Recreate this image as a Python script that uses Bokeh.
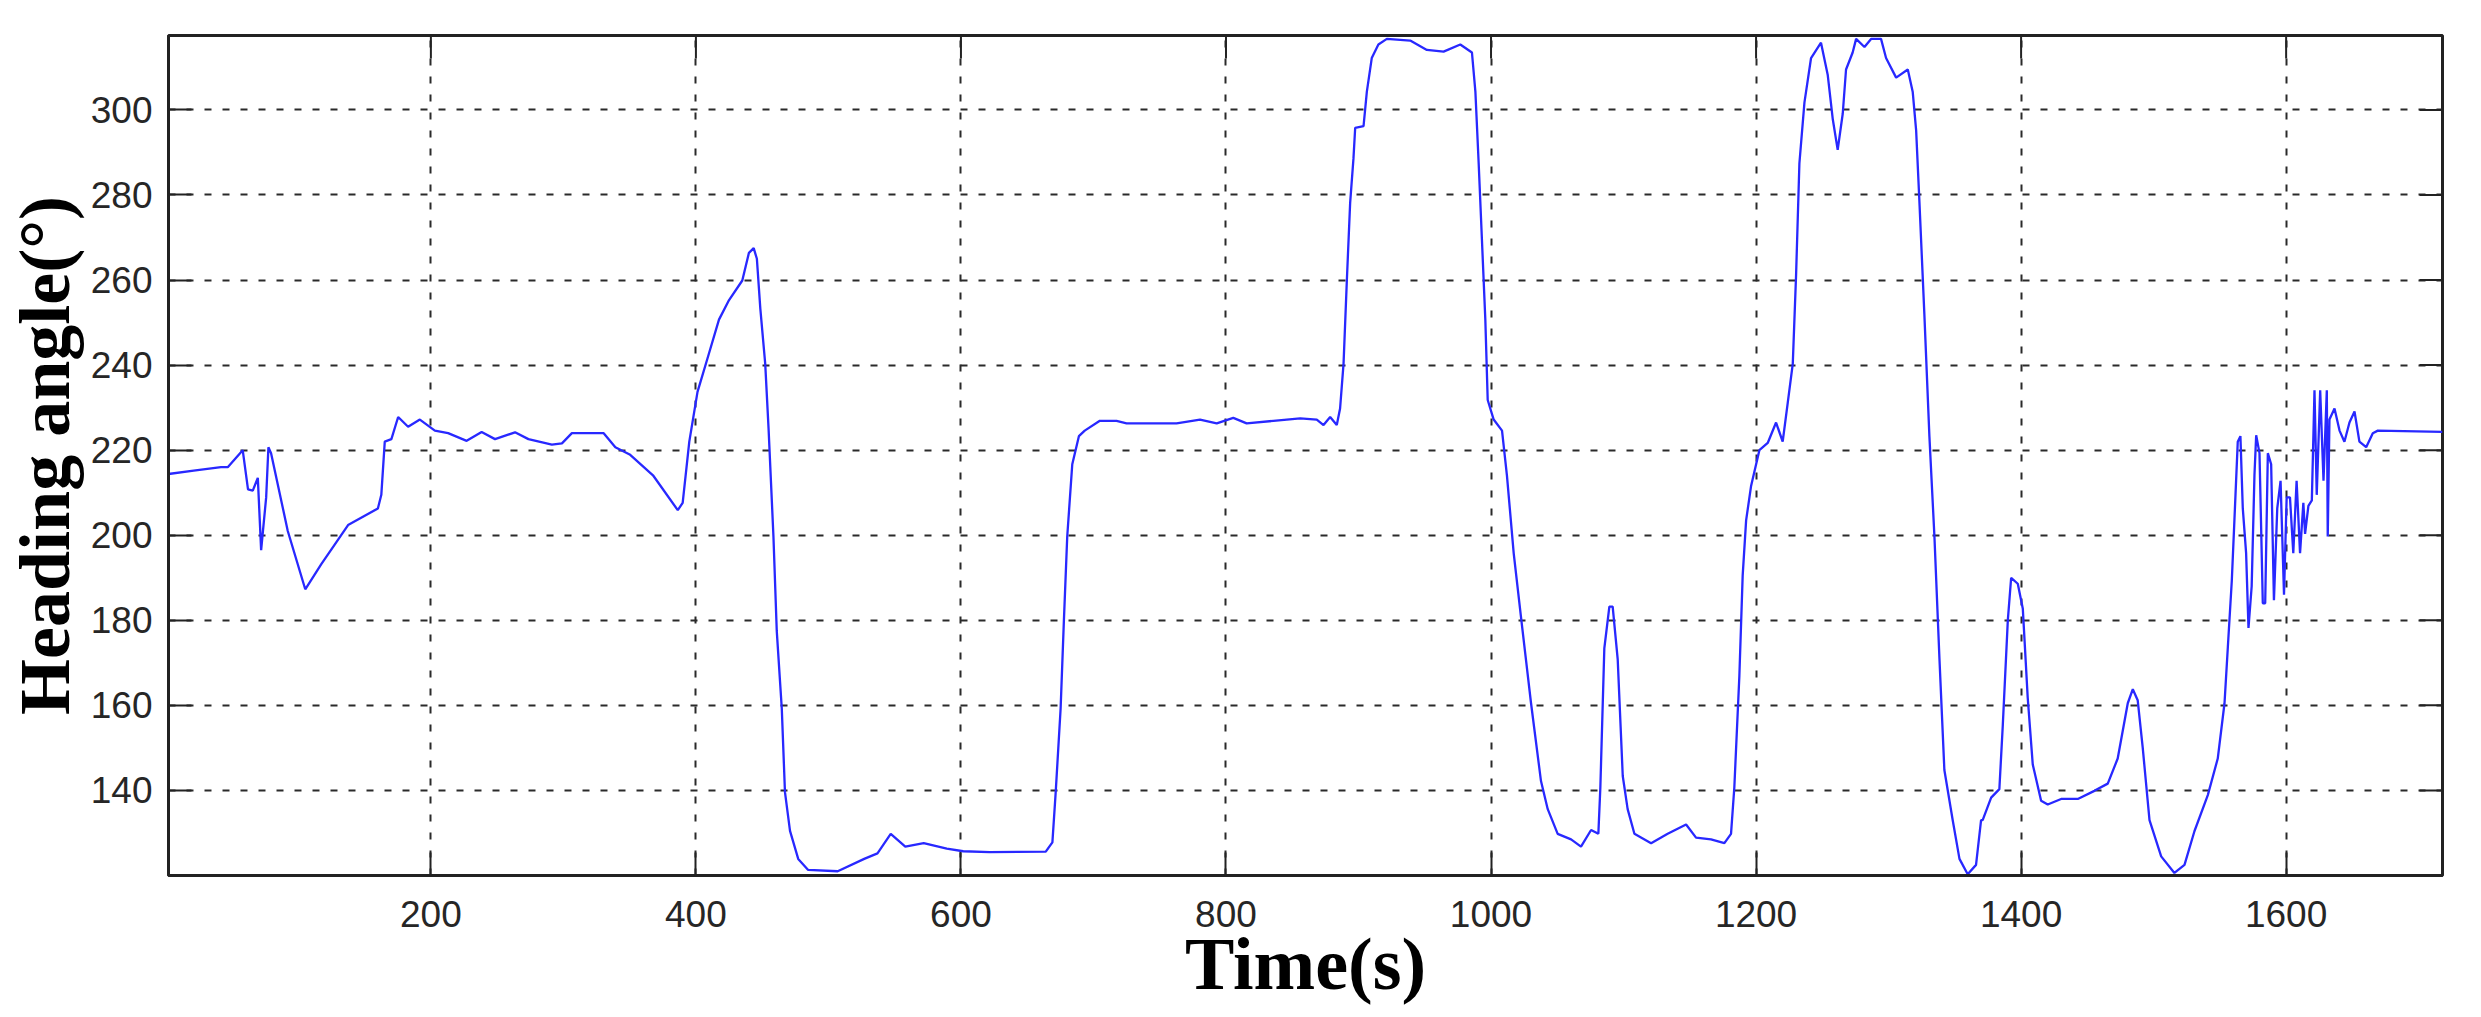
import math
from bokeh.plotting import figure
from bokeh.models import Range1d, FixedTicker
from bokeh.embed import file_html
from bokeh.resources import INLINE

# ---- data ----
time_s = [2, 21, 41.6, 46.7, 58, 62, 65.6, 69.4, 71.9, 75.7, 77.4, 79.4, 92, 105.2, 117.3, 137.5,
          160, 162.6, 165.2, 170.2, 175.3, 182.8, 191.7, 203, 213, 227, 238.3, 248.4, 263.5, 273.6,
          291.3, 298.9, 306.4, 330.4, 339.2, 350, 367.6, 386.3, 390, 395, 401.2, 410, 417.4, 425,
          435, 440, 443.6, 446, 448.6, 452.3, 454.8, 458.5, 461, 464.8, 467.2, 471, 477.2, 484.7,
          507, 527, 537, 547, 558, 571.9, 589.3, 601.7, 621.7, 664, 669, 671.5, 675.2, 677.7,
          680.2, 684, 689, 693.4, 704.8, 717.4, 725, 762.7, 780.4, 793, 805.5, 815.6, 835.8, 856,
          868.5, 873.6, 878.6, 883.6, 886.1, 888.7, 891.2, 893.7, 896.2, 897.5, 903.8, 906.3, 910,
          915, 921.4, 939, 951.6, 964.2, 976.8, 985.6, 988.2, 990.7, 993.2, 995.7, 997.5, 1002,
          1008.3, 1012, 1017.1, 1022.6, 1030.2, 1037.7, 1042.8, 1050.3, 1060.4, 1067.9, 1075.5,
          1081, 1082.5, 1085.5, 1089.3, 1091.8, 1095.6, 1099.4, 1103.1, 1108.2, 1120.8, 1133.3,
          1147.2, 1154.7, 1166, 1176.1, 1181.1, 1183.6, 1187.4, 1189.9, 1192.5, 1196.2, 1202.5,
          1208.8, 1215.1, 1220.1, 1223.9, 1227.7, 1230.2, 1232.7, 1236.5, 1241.5, 1249, 1254.1,
          1257.9, 1261.6, 1265.4, 1267.9, 1272.9, 1275.5, 1281.8, 1286.8, 1294.3, 1298.1, 1305.7,
          1314.5, 1318.2, 1320.8, 1323.3, 1327, 1330.8, 1334.6, 1338.4, 1342.1, 1348.4, 1353.5,
          1359.7, 1366, 1369.8, 1371, 1377.4, 1383.6, 1386.2, 1390, 1392.5, 1397.5, 1401.3, 1405,
          1408.8, 1415.1, 1420.1, 1430.2, 1442.8, 1455.3, 1465.4, 1472.9, 1480.5, 1484.3, 1488,
          1491.8, 1496.9, 1505.7, 1515.7, 1523.3, 1530.8, 1540.9, 1548.4, 1553.5, 1556, 1559,
          1561, 1563.5, 1565.5, 1567.3, 1569.8, 1571.6, 1574, 1576.1, 1577.4, 1579.9, 1582.4,
          1584.2, 1586.2, 1588.7, 1590.8, 1593.3, 1595.8, 1598.4, 1600.4, 1602.9, 1605.4, 1607.9,
          1610.5, 1613, 1614.3, 1616.8, 1619.4, 1621.4, 1623.1, 1625.7, 1628.2, 1630.7, 1631.4,
          1632.7, 1636.5, 1640.3, 1644, 1647.8, 1651.6, 1655.3, 1660.4, 1665.4, 1669.2, 1718]

heading_deg = [214.4, 215.2, 216, 216, 220, 210.8, 210.5, 213.5, 196.5, 208.9, 220.7, 219.3, 201,
               187.3, 193.2, 202.4, 206.3, 209.5, 222, 222.6, 227.8, 225.5, 227.2, 224.6, 224,
               222.2, 224.3, 222.6, 224.2, 222.6, 221.3, 221.6, 224, 224, 220.7, 219, 214.1,
               205.9, 207.6, 222, 233.7, 242.9, 250.7, 255.3, 259.9, 266.4, 267.5, 265, 253.3,
               240.3, 225.2, 199.7, 177.5, 159.2, 139.6, 130.5, 123.9, 121.3, 121, 123.9, 125.2,
               129.8, 126.8, 127.6, 126.3, 125.7, 125.5, 125.6, 127.8, 139.6, 159.2, 180.1, 199.7,
               216.7, 223.3, 224.6, 226.9, 226.9, 226.3, 226.3, 227.2, 226.3, 227.6, 226.3, 226.9,
               227.5, 227.2, 225.9, 227.8, 225.9, 229.8, 240.3, 259.9, 278.2, 288.6, 295.8, 296.2,
               304.3, 312.2, 315.4, 316.7, 316.3, 314.1, 313.7, 315.4, 313.5, 304.3, 287.3, 269,
               250.7, 231.8, 227.2, 224.6, 214.1, 195.8, 180.8, 160.5, 142.2, 135.6, 129.8, 128.5,
               126.8, 130.7, 129.8, 140.7, 173.4, 183.2, 183.2, 170.8, 143.4, 135.6, 129.8, 127.6,
               129.8, 132, 128.9, 128.5, 127.6, 129.8, 140.7, 166.9, 190.5, 203.5, 211.5, 220,
               221.7, 226.5, 222, 231.1, 240.3, 261.2, 287.4, 301.7, 312.2, 315.8, 308.2, 297.8,
               290.6, 299.1, 309.5, 313.5, 316.7, 314.8, 316.7, 316.7, 312.2, 307.6, 309.5, 304.3,
               295.2, 278.2, 252, 223.3, 199.7, 170.9, 144.8, 133, 123.9, 120.3, 122.5, 133, 133,
               138.3, 140.3, 155.4, 180.1, 190, 188.6, 182.7, 161.8, 146.1, 137.6, 136.7, 138, 138,
               139.9, 141.6, 147.5, 160.5, 163.8, 161.2, 150, 133, 124.5, 120.6, 122.5, 130.4,
               138.9, 147.5, 160.5, 173.6, 189.3, 203.7, 222, 223.3, 206.3, 195.8, 178.2, 188,
               214.1, 223.5, 219.3, 184, 184, 219.3, 216.7, 184.7, 206.3, 212.8, 186, 208.9, 208.9,
               195.8, 212.8, 195.8, 207.6, 200.3, 206.9, 208.2, 234.1, 209.5, 234.1, 212.8, 234.1,
               199.7, 227.2, 229.8, 224.6, 222, 226.5, 229.1, 222, 220.7, 224, 224.6, 224.3]

x_ticks = [200, 400, 600, 800, 1000, 1200, 1400, 1600]
y_ticks = [140, 160, 180, 200, 220, 240, 260, 280, 300]
x_label = "Time(s)"
y_label = "Heading angle(°)"

X_START, X_END = 2, 1718
Y_START, Y_END = 120, 317.5

# ---- figure ----
p = figure(width=2475, height=1010, output_backend="svg", toolbar_location=None,
           x_range=Range1d(X_START, X_END), y_range=Range1d(Y_START, Y_END),
           min_border_left=168, min_border_right=33, min_border_top=35, min_border_bottom=135,
           background_fill_color="white", border_fill_color="white")

frame_col = "#222222"

# grid (MATLAB-like dotted/dashed)
for g, ticks in ((p.xgrid[0], x_ticks), (p.ygrid[0], y_ticks)):
    g.ticker = FixedTicker(ticks=ticks)
    g.grid_line_color = "#2a2a2a"
    g.grid_line_width = 2
    g.grid_line_dash = "7 11"
    g.grid_line_alpha = 1.0

p.line(time_s, heading_deg, line_color="#2828ff", line_width=2.3)

# inward ticks on the right and top sides (box on)
tick_len = 23
p.ray(x=[X_END] * len(y_ticks), y=y_ticks, length=tick_len, length_units="screen",
      angle=math.pi, line_color=frame_col, line_width=2)
p.ray(x=x_ticks, y=[Y_END] * len(x_ticks), length=tick_len, length_units="screen",
      angle=-math.pi / 2, line_color=frame_col, line_width=2)

p.outline_line_color = frame_col
p.outline_line_width = 3

for ax, ticks in ((p.xaxis[0], x_ticks), (p.yaxis[0], y_ticks)):
    ax.ticker = FixedTicker(ticks=ticks)
    ax.major_tick_in = tick_len
    ax.major_tick_out = 0
    ax.minor_tick_in = 0
    ax.minor_tick_out = 0
    ax.major_tick_line_color = frame_col
    ax.major_tick_line_width = 2
    ax.axis_line_color = frame_col
    ax.axis_line_width = 3
    ax.major_label_text_font = "Liberation Sans"
    ax.major_label_text_font_size = "37px"
    ax.major_label_text_color = "#262626"
    ax.axis_label_text_font = "Liberation Serif"
    ax.axis_label_text_font_style = "bold"
    ax.axis_label_text_color = "black"

p.xaxis[0].axis_label = x_label
p.xaxis[0].axis_label_text_font_size = "74px"
p.xaxis[0].major_label_standoff = 25
p.xaxis[0].axis_label_standoff = -7

p.yaxis[0].axis_label = y_label
p.yaxis[0].axis_label_text_font_size = "72px"
p.yaxis[0].major_label_standoff = 16
p.yaxis[0].axis_label_standoff = 3

open("out.html", "w").write(file_html(p, INLINE))
